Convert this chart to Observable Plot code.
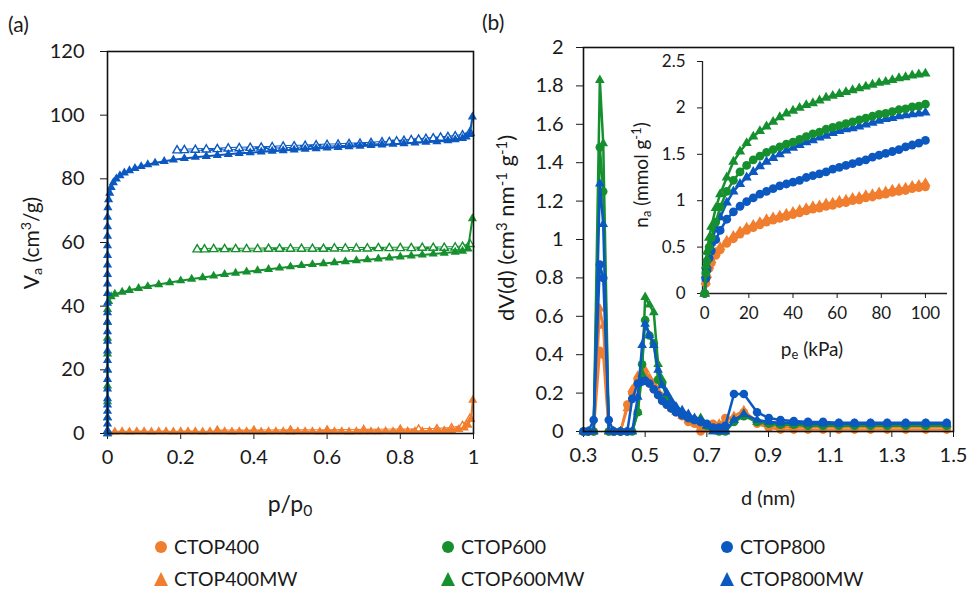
<!DOCTYPE html>
<html><head><meta charset="utf-8">
<script src="https://cdn.jsdelivr.net/npm/d3@7"></script>
<script src="https://cdn.jsdelivr.net/npm/@observablehq/plot@0.6"></script>
<style>
body{margin:0;background:#fff;font-family:Lato,"Open Sans",sans-serif;color:#1a1a1a}
#root{position:relative;width:969px;height:594px;overflow:hidden;background:#fff}
.abs{position:absolute;white-space:nowrap;line-height:1}
.rot{transform:translate(-50%,-50%) rotate(-90deg)}
.ctr{transform:translate(-50%,-50%)}
sub{font-size:0.68em;vertical-align:-0.28em;line-height:0}
sup{font-size:0.68em;vertical-align:0.5em;line-height:0}
.leg{position:absolute;display:flex;align-items:center;font-size:19.5px;line-height:1;white-space:nowrap}
.leg svg{margin-right:4px}
</style></head>
<body><div id="root"></div>
<script>
// ---------- colours / fonts ----------
const FONT = "Lato, 'Open Sans', sans-serif";
const C400 = "#F07E2E", C600 = "#16902F", C800 = "#0B58C0";

// ---------- panel (a): N2 isotherms of MW samples ----------
const A_XTICKS = [0, 0.2, 0.4, 0.6, 0.8, 1];
const A_YTICKS = [0, 20, 40, 60, 80, 100, 120];

const A_800MW_ADS_P = [0,0,0,0,0,0,0,0,0,0,0,0,0,0,0,0,0,0,0,0,0,0,0,0,0,0,
  0.001,0.003,0.006,0.01,0.016,0.024,0.034,0.046,0.06,0.075,0.092,0.11,0.13,0.155,0.18,0.21,0.24,0.27,0.3,0.33,0.36,0.39,0.42,0.45,0.48,0.51,0.54,0.57,0.6,0.63,0.66,0.69,0.72,0.75,0.78,0.81,0.84,0.87,0.9,0.93,0.95,0.97,0.98,0.99,0.997];
const A_800MW_ADS_V = [0,1,3,5,7,9,11,14,17,20,23,26,29,32,35,38,41,44,47,50,53,56,59,62,65,68,
  71,73.5,75.5,77.3,78.8,80,81,81.9,82.6,83.3,83.9,84.5,85,85.5,86,86.4,86.8,87.1,87.4,87.7,88,88.2,88.5,88.7,88.9,89.1,89.3,89.5,89.7,89.9,90.1,90.3,90.5,90.7,90.9,91.1,91.3,91.5,91.7,92,92.3,92.7,93.2,94,99.5];
const A_800MW_DES_P = [0.99,0.97,0.95,0.93,0.91,0.89,0.87,0.85,0.83,0.81,0.79,0.77,0.75,0.72,0.69,0.66,0.63,0.60,0.57,0.54,0.51,0.48,0.45,0.42,0.39,0.36,0.33,0.30,0.27,0.24,0.21,0.19];
const A_800MW_DES_V = [94.5,93.6,93.3,93.1,92.9,92.7,92.5,92.3,92.1,91.9,91.7,91.5,91.4,91.2,91.0,90.9,90.7,90.6,90.5,90.3,90.2,90.1,89.9,89.8,89.7,89.6,89.5,89.3,89.2,89.1,89.0,88.9];

const A_600MW_ADS_P = [0,0,0,0,0,0,0,0,0,0.003,0.01,0.02,0.04,0.06,0.085,0.11,0.14,0.17,0.2,0.23,0.26,0.29,0.32,0.35,0.38,0.41,0.44,0.47,0.5,0.53,0.56,0.59,0.62,0.65,0.68,0.71,0.74,0.77,0.8,0.83,0.86,0.89,0.92,0.95,0.97,0.985,0.997];
const A_600MW_ADS_V = [0,5,10,15,20,25,30,35,39,41.5,43,43.8,44.4,45,45.6,46.2,46.8,47.4,48,48.5,49,49.5,50,50.4,50.8,51.2,51.6,52,52.4,52.8,53.1,53.4,53.7,54,54.3,54.6,54.9,55.2,55.5,55.8,56.1,56.4,56.7,57,57.3,58,67.5];
const A_600MW_DES_P = [0.99,0.97,0.95,0.92,0.89,0.86,0.83,0.80,0.77,0.74,0.71,0.68,0.65,0.62,0.59,0.56,0.53,0.50,0.47,0.44,0.41,0.38,0.35,0.32,0.29,0.265,0.245];
const A_600MW_DES_V = [59.5,58.6,58.4,58.3,58.3,58.3,58.2,58.2,58.2,58.2,58.1,58.1,58.1,58.1,58.0,58.0,58.0,58.0,58.0,58.0,57.9,57.9,57.9,57.9,57.9,57.8,57.8];

const A_400MW_ADS_P = [0.003,0.02,0.04,0.06,0.08,0.1,0.12,0.14,0.16,0.18,0.2,0.22,0.24,0.26,0.28,0.3,0.32,0.34,0.36,0.38,0.4,0.42,0.44,0.46,0.48,0.5,0.52,0.54,0.56,0.58,0.6,0.62,0.64,0.66,0.68,0.7,0.72,0.74,0.76,0.78,0.8,0.82,0.84,0.86,0.88,0.9,0.92,0.94,0.96,0.975,0.985,0.993,0.998];
const A_400MW_ADS_V = [0.3,0.5,0.6,0.5,0.6,0.6,0.5,0.6,0.6,0.5,0.6,0.6,0.6,0.5,0.6,0.6,0.6,0.5,0.6,0.6,0.6,0.5,0.6,0.6,0.6,0.5,0.6,0.6,0.6,0.5,0.6,0.6,0.6,0.5,0.6,0.6,0.6,0.6,0.7,0.6,0.7,0.7,0.7,0.7,0.8,0.8,0.9,1.0,1.3,1.8,2.6,4.5,10.5];
const A_400MW_DES_P = [0.99,0.97,0.94,0.9,0.85,0.8,0.7,0.6,0.5,0.4,0.3];
const A_400MW_DES_V = [4.6,2.3,1.6,1.3,1.2,1.1,1.0,0.9,0.9,0.8,0.8];

// ---------- panel (b): pore size distribution ----------
const B_XTICKS = [0.3, 0.5, 0.7, 0.9, 1.1, 1.3, 1.5];
const B_YTICKS = [0, 0.2, 0.4, 0.6, 0.8, 1, 1.2, 1.4, 1.6, 1.8, 2];
const B_D = [0.30,0.315,0.333,0.353,0.364,0.382,0.398,0.42,0.442,0.458,0.476,0.49,0.50,0.514,0.528,0.542,0.555,0.57,0.585,0.60,0.62,0.64,0.66,0.68,0.70,0.72,0.74,0.76,0.788,0.82,0.863,0.901,0.939,0.982,1.028,1.077,1.128,1.179,1.231,1.285,1.345,1.41,1.478];
const B_400   = [0,0,0,0.42,0.40,0,0,0,0.14,0.20,0.27,0.29,0.28,0.25,0.22,0.19,0.16,0.14,0.12,0.10,0.08,0.05,0.04,0.0,0.03,0.04,0.02,0.07,0.06,0.10,0.04,0.02,0.01,0.01,0.01,0.01,0.01,0.01,0.01,0.01,0.01,0.01,0.01];
const B_400MW = [0,0,0,0.64,0.55,0,0,0,0.12,0.22,0.29,0.31,0.32,0.28,0.25,0.21,0.18,0.15,0.12,0.10,0.08,0.06,0.05,0.02,0.01,0.03,0.04,0.06,0.08,0.11,0.05,0.03,0.025,0.025,0.025,0.025,0.025,0.025,0.025,0.025,0.025,0.025,0.025];
const B_600   = [0,0,0,1.48,1.25,0,0,0,0,0,0.10,0.35,0.58,0.50,0.46,0.27,0.25,0.18,0.14,0.11,0.09,0.07,0.06,0.05,0.03,0.01,0,0,0.05,0.08,0.05,0.04,0.035,0.035,0.03,0.03,0.03,0.03,0.03,0.03,0.03,0.03,0.03];
const B_600MW = [0,0,0,1.83,1.50,0,0,0,0,0,0.10,0.30,0.70,0.66,0.62,0.35,0.27,0.20,0.15,0.12,0.10,0.075,0.06,0.07,0.03,0,0,0,0.06,0.09,0.05,0.04,0.035,0.035,0.035,0.035,0.035,0.035,0.035,0.035,0.035,0.035,0.035];
const B_800   = [0,0,0.06,0.87,0.80,0.06,0,0,0,0.17,0.25,0.26,0.265,0.25,0.22,0.19,0.16,0.14,0.12,0.10,0.085,0.07,0.06,0.05,0.04,0.02,0.02,0.03,0.195,0.195,0.10,0.07,0.06,0.055,0.05,0.05,0.045,0.045,0.045,0.045,0.045,0.045,0.045];
const B_800MW = [0,0,0,1.29,1.08,0,0,0,0,0,0.18,0.45,0.56,0.50,0.45,0.32,0.24,0.20,0.16,0.13,0.11,0.09,0.07,0.06,0.03,0,0,0,0.06,0.09,0.06,0.05,0.045,0.045,0.04,0.04,0.04,0.04,0.04,0.04,0.04,0.04,0.04];

// ---------- inset: CO2 adsorption isotherms ----------
const I_XTICKS = [0, 20, 40, 60, 80, 100];
const I_YTICKS = [0, 0.5, 1, 1.5, 2, 2.5];
const I_P = [0,0.5,1,2,3,5,7,10,13,16,19,22,25,28,31,34,37,40,43,46,49,52,55,58,61,64,67,70,73,76,79,82,85,88,91,94,97,100];
const I_400   = [0,0.11,0.18,0.27,0.33,0.41,0.47,0.54,0.59,0.64,0.68,0.71,0.74,0.77,0.79,0.81,0.83,0.85,0.87,0.89,0.91,0.92,0.94,0.95,0.97,0.98,1.00,1.01,1.03,1.04,1.06,1.07,1.09,1.10,1.11,1.13,1.14,1.15];
const I_400MW = [0,0.13,0.20,0.30,0.36,0.44,0.50,0.57,0.62,0.67,0.71,0.74,0.77,0.80,0.82,0.84,0.86,0.88,0.90,0.92,0.94,0.95,0.97,0.98,1.00,1.01,1.03,1.04,1.06,1.07,1.09,1.10,1.12,1.13,1.14,1.16,1.17,1.19];
const I_600   = [0,0.22,0.35,0.50,0.60,0.77,0.93,1.10,1.22,1.31,1.38,1.44,1.48,1.52,1.55,1.58,1.61,1.63,1.66,1.69,1.72,1.74,1.77,1.79,1.81,1.83,1.85,1.87,1.89,1.91,1.93,1.94,1.96,1.98,1.99,2.01,2.02,2.04];
const I_600MW = [0,0.30,0.45,0.60,0.72,0.92,1.07,1.25,1.42,1.53,1.62,1.69,1.75,1.80,1.85,1.90,1.94,1.97,2.00,2.03,2.05,2.08,2.11,2.13,2.15,2.17,2.19,2.21,2.23,2.25,2.27,2.28,2.30,2.32,2.33,2.35,2.36,2.37];
const I_800   = [0,0.16,0.25,0.38,0.46,0.58,0.68,0.80,0.88,0.94,0.99,1.03,1.07,1.10,1.13,1.16,1.18,1.20,1.22,1.25,1.27,1.29,1.31,1.34,1.36,1.38,1.40,1.42,1.44,1.47,1.49,1.51,1.53,1.55,1.58,1.60,1.62,1.65];
const I_800MW = [0,0.20,0.30,0.45,0.55,0.70,0.82,0.98,1.10,1.18,1.25,1.31,1.37,1.42,1.46,1.50,1.54,1.57,1.60,1.63,1.65,1.68,1.70,1.73,1.75,1.77,1.78,1.80,1.82,1.84,1.86,1.88,1.89,1.91,1.92,1.93,1.94,1.95];

// ---------- legend ----------
const LEGEND_NAMES = ["CTOP400","CTOP600","CTOP800","CTOP400MW","CTOP600MW","CTOP800MW"];
const LEGEND_COLORS = [C400, C600, C800, C400, C600, C800];
const LEGEND_SYMBOLS = ["circle","circle","circle","triangle","triangle","triangle"];

// ---------- helpers ----------
const pts = (xs, ys) => xs.map((x, i) => ({x, y: ys[i]})).filter(d => d.x != null && d.y != null);
const fmt = d => String(+d.toFixed(2));

function adsMarks(data, color, symbol, r, sw) {
  return [
    Plot.line(data, {x: "x", y: "y", stroke: color, strokeWidth: sw}),
    Plot.dot(data, {x: "x", y: "y", symbol, r, fill: color, stroke: "none"})
  ];
}
function desMarks(data, color) {
  return [
    Plot.line(data, {x: "x", y: "y", stroke: color, strokeWidth: 3}),
    Plot.line(data, {x: "x", y: "y", stroke: "#fff", strokeWidth: 1, strokeDasharray: "5,4"}),
    Plot.dot(data, {x: "x", y: "y", symbol: "triangle", r: 3.1, fill: "#fff", stroke: color, strokeWidth: 1.4})
  ];
}

const root = document.getElementById("root");
function place(el, left, top) {
  el.style.position = "absolute"; el.style.left = left + "px"; el.style.top = top + "px";
  root.appendChild(el);
}
function html(s, left, top, size, cls) {
  const d = document.createElement("div");
  d.className = "abs " + (cls || "");
  d.style.left = left + "px"; d.style.top = top + "px"; d.style.fontSize = size + "px";
  d.innerHTML = s;
  root.appendChild(d);
}
const baseStyle = {fontFamily: FONT, color: "#1a1a1a", background: "transparent", overflow: "visible"};

// ---------- plot (a) ----------
const plotA = Plot.plot({
  width: 480, height: 520, marginLeft: 107, marginRight: 7, marginTop: 51, marginBottom: 87,
  x: {domain: [0, 1]}, y: {domain: [0, 120]},
  style: {...baseStyle, fontSize: "20px"},
  marks: [
    Plot.axisX({ticks: A_XTICKS, tickFormat: fmt, tickSize: 6, tickPadding: 10, label: null, fontSize: 20}),
    Plot.axisY({ticks: A_YTICKS, tickFormat: fmt, tickSize: 7, tickPadding: 16, label: null, fontSize: 20}),
    ...desMarks(pts(A_400MW_DES_P, A_400MW_DES_V), C400),
    ...adsMarks(pts(A_400MW_ADS_P, A_400MW_ADS_V), C400, "triangle", 3.4, 2),
    ...desMarks(pts(A_600MW_DES_P, A_600MW_DES_V), C600),
    ...adsMarks(pts(A_600MW_ADS_P, A_600MW_ADS_V), C600, "triangle", 3.4, 2),
    ...desMarks(pts(A_800MW_DES_P, A_800MW_DES_V), C800),
    ...adsMarks(pts(A_800MW_ADS_P, A_800MW_ADS_V), C800, "triangle", 3.4, 2),
    Plot.frame({stroke: "#111", strokeWidth: 1.6})
  ]
});
place(plotA, 0, 0);

// ---------- plot (b) ----------
const plotB = Plot.plot({
  width: 489, height: 520, marginLeft: 103, marginRight: 16, marginTop: 47, marginBottom: 89,
  x: {domain: [0.3, 1.5]}, y: {domain: [0, 2]},
  style: {...baseStyle, fontSize: "20px"},
  marks: [
    Plot.axisX({ticks: B_XTICKS, tickFormat: fmt, tickSize: 6, tickPadding: 10, label: null, fontSize: 20}),
    Plot.axisY({ticks: B_YTICKS, tickFormat: fmt, tickSize: 7, tickPadding: 13, label: null, fontSize: 20}),
    ...adsMarks(pts(B_D, B_400), C400, "circle", 4.3, 2.5),
    ...adsMarks(pts(B_D, B_400MW), C400, "triangle", 3.6, 2.5),
    ...adsMarks(pts(B_D, B_600), C600, "circle", 4.3, 2.5),
    ...adsMarks(pts(B_D, B_600MW), C600, "triangle", 3.6, 2.5),
    ...adsMarks(pts(B_D, B_800), C800, "circle", 4.3, 2.5),
    ...adsMarks(pts(B_D, B_800MW), C800, "triangle", 3.6, 2.5),
    Plot.frame({stroke: "#111", strokeWidth: 1.6})
  ]
});
place(plotB, 480, 0);

// ---------- inset ----------
const plotI = Plot.plot({
  width: 360, height: 330, marginLeft: 102, marginRight: 13, marginTop: 21, marginBottom: 77,
  x: {domain: [-1, 110]}, y: {domain: [0, 2.5]},
  style: {...baseStyle, fontSize: "17px"},
  marks: [
    Plot.ruleY([0], {stroke: "#222", strokeWidth: 1.3}),
    Plot.ruleX([-1], {y1: 0, y2: 2.5, stroke: "#222", strokeWidth: 1.3}),
    Plot.axisX({ticks: I_XTICKS, tickFormat: fmt, tickSize: 5, tickPadding: 8, label: null, fontSize: 17}),
    Plot.axisY({ticks: I_YTICKS, tickFormat: fmt, tickSize: 5, tickPadding: 12, label: null, fontSize: 17}),
    ...adsMarks(pts(I_P, I_400), C400, "circle", 4.4, 2.5),
    ...adsMarks(pts(I_P, I_400MW), C400, "triangle", 3.8, 2.5),
    ...adsMarks(pts(I_P, I_800), C800, "circle", 4.4, 2.5),
    ...adsMarks(pts(I_P, I_800MW), C800, "triangle", 3.8, 2.5),
    ...adsMarks(pts(I_P, I_600), C600, "circle", 4.4, 2.5),
    ...adsMarks(pts(I_P, I_600MW), C600, "triangle", 3.8, 2.5)
  ]
});
place(plotI, 600, 40);

// ---------- text ----------
html("(a)", 8, 13, 21);
html("(b)", 482, 11, 21);
html("V<sub>a</sub> (cm<sup>3</sup>/g)", 30, 243, 21, "rot");
html("p/p<sub>0</sub>", 290, 503, 23, "ctr");
html("dV(d) (cm<sup>3</sup> nm<sup>-1</sup> g<sup>-1</sup>)", 506, 228, 22, "rot");
html("d (nm)", 768, 497, 20, "ctr");
html("n<sub>a</sub> (mmol g<sup>-1</sup>)", 640, 175, 19, "rot");
html("p<sub>e</sub> (kPa)", 812, 348, 19, "ctr");

// ---------- legend ----------
const LEG_X = [152, 439, 718], LEG_Y = [546, 578];
LEGEND_NAMES.forEach((name, i) => {
  const col = i % 3, row = Math.floor(i / 3);
  const div = document.createElement("div");
  div.className = "leg";
  const shape = LEGEND_SYMBOLS[i] === "circle"
    ? `<svg width="18" height="18"><circle cx="9" cy="9" r="6" fill="${LEGEND_COLORS[i]}"/></svg>`
    : `<svg width="18" height="18"><polygon points="9,2 16,16 2,16" fill="${LEGEND_COLORS[i]}"/></svg>`;
  div.innerHTML = shape + `<span>${name}</span>`;
  div.style.left = LEG_X[col] + "px";
  div.style.top = (LEG_Y[row] - 9) + "px";
  root.appendChild(div);
});
</script>
</body></html>
